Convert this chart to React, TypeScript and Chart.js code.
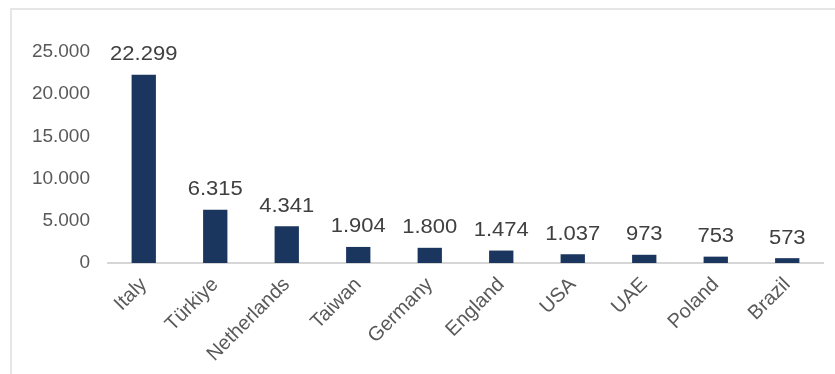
import React, { useEffect, useRef } from "react";
import { Chart, registerables } from "chart.js";

Chart.register(...registerables);

const categories = ["Italy", "Türkiye", "Netherlands", "Taiwan", "Germany", "England", "USA", "UAE", "Poland", "Brazil"];
const values = [22299, 6315, 4341, 1904, 1800, 1474, 1037, 973, 753, 573];
const yTicks = [0, 5000, 10000, 15000, 20000, 25000];

const fmt = (v: number) => String(Math.round(v)).replace(/\B(?=(\d{3})+(?!\d))/g, ".");

const FONT = "'Liberation Sans', Arial, sans-serif";

const dataLabels = {
  id: "dataLabels",
  afterDatasetsDraw(chart: any) {
    const ctx = chart.ctx;
    const meta = chart.getDatasetMeta(0);
    ctx.save();
    ctx.font = `20px ${FONT}`;
    ctx.fillStyle = "#404040";
    ctx.textAlign = "center";
    ctx.textBaseline = "bottom";
    meta.data.forEach((bar: any, i: number) => {
      ctx.save();
      ctx.translate(bar.x, bar.y - 10);
      ctx.scale(1.1, 1);
      ctx.fillText(fmt(values[i]), 0, 0);
      ctx.restore();
    });
    ctx.restore();
  },
};

export default function App() {
  const ref = useRef<HTMLCanvasElement>(null);
  useEffect(() => {
    const chart = new Chart(ref.current!, {
      type: "bar",
      data: {
        labels: categories,
        datasets: [
          {
            data: values,
            backgroundColor: "#1a355e",
            barPercentage: 0.34,
            categoryPercentage: 1,
          },
        ],
      },
      options: {
        animation: false,
        responsive: false,
        maintainAspectRatio: false,
        layout: { padding: { left: 0, right: 12, top: 52, bottom: 0 } },
        plugins: { legend: { display: false }, tooltip: { enabled: false } },
        scales: {
          x: {
            grid: { display: false, drawTicks: false },
            border: { display: true, color: "#d6d6d6", width: 2 },
            ticks: {
              color: "#595959",
              font: { family: FONT, size: 20 },
              minRotation: 45,
              maxRotation: 45,
              padding: 10,
              autoSkip: false,
            },
            afterFit: (s: any) => {
              s.height = 111;
            },
          },
          y: {
            min: 0,
            max: 25000,
            afterBuildTicks: (s: any) => {
              s.ticks = yTicks.map((v) => ({ value: v }));
            },
            grid: { display: false, drawTicks: false },
            border: { display: false },
            ticks: {
              color: "#595959",
              font: { family: FONT, size: 19 },
              padding: 18,
              callback: (v: any) => fmt(Number(v)),
            },
            afterFit: (s: any) => {
              s.width = 108;
            },
          },
        },
      },
      plugins: [dataLabels],
    });
    return () => chart.destroy();
  }, []);
  return (
    <div style={{ position: "fixed", left: 0, top: 0, width: 835, height: 374, overflow: "hidden", background: "#fff" }}>
      <div
        style={{
          position: "absolute",
          left: 10,
          top: 8,
          width: 900,
          height: 500,
          border: "2px solid #e6e6e6",
          boxSizing: "border-box",
        }}
      />
      <canvas ref={ref} width={835} height={374} style={{ position: "absolute", left: 0, top: 0 }} />
    </div>
  );
}
